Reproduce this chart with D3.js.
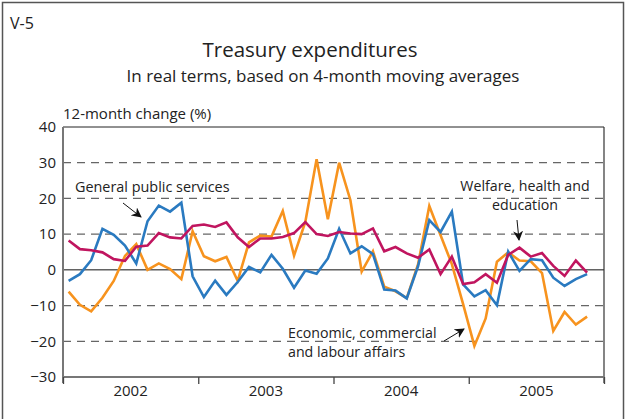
<!DOCTYPE html>
<html><head><meta charset="utf-8">
<script src="https://cdn.jsdelivr.net/npm/d3@7"></script>
<style>body{margin:0;background:#fff}svg{display:block}text{font-family:"Open Sans",Lato,sans-serif;fill:#222}</style>
</head><body><svg id="c" width="627" height="419"></svg>
<script>
const months = ["2002-01","2002-02","2002-03","2002-04","2002-05","2002-06","2002-07","2002-08","2002-09","2002-10","2002-11","2002-12",
"2003-01","2003-02","2003-03","2003-04","2003-05","2003-06","2003-07","2003-08","2003-09","2003-10","2003-11","2003-12",
"2004-01","2004-02","2004-03","2004-04","2004-05","2004-06","2004-07","2004-08","2004-09","2004-10","2004-11","2004-12",
"2005-01","2005-02","2005-03","2005-04","2005-05","2005-06","2005-07","2005-08","2005-09","2005-10","2005-11"];
const years = ["2002","2003","2004","2005"];
const yTicks = [40,30,20,10,0,-10,-20,-30];
const generalPublic = [-3.1,-1.2,2.7,11.5,9.8,6.8,1.8,13.6,18.0,16.3,18.8,-1.8,
-7.6,-3.0,-7.0,-3.4,0.8,-0.7,4.2,0.3,-5.0,-0.2,-1.1,3.2,
11.5,4.6,6.6,4.4,-5.5,-5.8,-8.0,1.0,13.9,10.6,16.3,-4.1,
-7.4,-5.7,-9.9,5.1,-0.3,3.0,2.7,-2.2,-4.5,-2.6,-1.2];
const welfare = [8.2,5.8,5.5,4.9,3.0,2.5,6.5,6.8,10.3,9.1,8.8,12.3,
12.7,12.0,13.3,9.1,6.4,8.8,8.8,9.2,10.3,13.4,10.0,9.5,
10.6,10.2,10.0,11.6,5.2,6.4,4.6,3.4,5.7,-1.2,3.7,-4.0,
-3.5,-1.2,-3.6,4.2,6.2,3.7,4.7,1.1,-1.7,2.6,-0.8];
const economic = [-6.1,-9.8,-11.6,-7.8,-3.1,3.9,7.2,0.0,1.8,0.2,-2.6,10.8,
3.8,2.4,3.6,-3.1,7.7,9.6,9.3,16.5,4.0,13.4,31.0,14.2,
30.0,19.5,-0.5,5.2,-4.7,-6.0,-7.9,1.5,17.9,9.7,1.6,-9.6,
-21.3,-13.6,2.3,4.9,2.6,2.4,-0.9,-17.1,-11.8,-15.3,-13.1];
const seriesNames = ["Economic, commercial and labour affairs","General public services","Welfare, health and education"];

const svg = d3.select("#c");
const L=63,R=604,T=127,B=377;
const x = d3.scaleLinear().domain([0, years.length*12]).range([L,R]);
const y = d3.scaleLinear().domain([-30,40]).range([B,T]);

// outer frame
svg.append("rect").attr("x",2.5).attr("y",2.5).attr("width",621).attr("height",440)
  .attr("fill","none").attr("stroke","#555").attr("stroke-width",1.5);

svg.append("text").attr("x",10).attr("y",29).attr("font-size",16).text("V-5");
svg.append("text").attr("x",310).attr("y",57).attr("text-anchor","middle").attr("font-size",20.5).text("Treasury expenditures");
svg.append("text").attr("x",323).attr("y",82).attr("text-anchor","middle").attr("font-size",17).text("In real terms, based on 4-month moving averages");
svg.append("text").attr("x",63).attr("y",119).attr("font-size",15).text("12-month change (%)");

// gridlines
svg.append("g").selectAll("line").data(yTicks.filter(d=>d!==0 && d!==40 && d!==-30)).join("line")
  .attr("x1",L).attr("x2",R).attr("y1",d=>y(d)).attr("y2",d=>y(d))
  .attr("stroke","#666").attr("stroke-width",1.3).attr("stroke-dasharray","8,6");
// zero line
svg.append("line").attr("x1",L).attr("x2",R).attr("y1",y(0)).attr("y2",y(0)).attr("stroke","#111").attr("stroke-width",1);
// top and right frame
svg.append("line").attr("x1",L).attr("x2",R).attr("y1",T).attr("y2",T).attr("stroke","#222").attr("stroke-width",1);
svg.append("line").attr("x1",R).attr("x2",R).attr("y1",T).attr("y2",B+6).attr("stroke","#333").attr("stroke-width",1.2);

// y axis
const yAxis = d3.axisLeft(y).tickValues(yTicks).tickSize(0).tickPadding(7);
const gy = svg.append("g").attr("transform",`translate(${L},0)`).call(yAxis);
gy.select(".domain").attr("stroke","#777").attr("stroke-width",2).attr("d",`M0,${T}V${B+6}`);
gy.selectAll("text").attr("font-size",15).attr("font-family","'Open Sans', sans-serif").attr("fill","#222");

// x axis
const xAxis = d3.axisBottom(x).tickValues(d3.range(0, years.length*12+1, 12)).tickSize(7).tickFormat("");
const gx = svg.append("g").attr("transform",`translate(0,${B})`).call(xAxis);
gx.select(".domain").attr("stroke","#777").attr("stroke-width",2).attr("d",`M${L},0H${R}`);
gx.selectAll(".tick line").attr("stroke","#444").attr("stroke-width",1.3);
svg.append("g").selectAll("text").data(years).join("text")
  .attr("x",(d,i)=>x(i*12+6)).attr("y",396).attr("text-anchor","middle").attr("font-size",15).text(d=>d);

// lines
const line = d3.line().x((d,i)=>x(i+0.5)).y(d=>y(d));
const defs = [[economic,"#f7931e"],[generalPublic,"#2a7ac0"],[welfare,"#c0155f"]];
defs.forEach(([data,col])=>{
  svg.append("path").datum(data).attr("d",line).attr("fill","none").attr("stroke",col)
    .attr("stroke-width",2.6).attr("stroke-linejoin","miter");
});

// annotations
svg.append("defs").append("marker").attr("id","ah").attr("viewBox","0 0 10 10").attr("refX",9).attr("refY",5)
  .attr("markerWidth",10).attr("markerHeight",10).attr("orient","auto-start-reverse").attr("markerUnits","userSpaceOnUse")
  .append("path").attr("d","M0,0L10,5L0,10L3,5Z").attr("fill","#111");
function arrow(x1,y1,x2,y2){
  svg.append("line").attr("x1",x1).attr("y1",y1).attr("x2",x2).attr("y2",y2).attr("stroke","#111").attr("stroke-width",1)
    .attr("marker-end","url(#ah)");
}
svg.append("text").attr("x",75).attr("y",192).attr("font-size",14.4).text(seriesNames[1]);
arrow(123,203,141,217);
svg.append("text").attr("x",525).attr("y",191).attr("text-anchor","middle").attr("font-size",14.2).text("Welfare, health and");
svg.append("text").attr("x",525).attr("y",210).attr("text-anchor","middle").attr("font-size",14.2).text("education");
arrow(517,220,519,240);
svg.append("text").attr("x",288).attr("y",338).attr("font-size",14.2).text("Economic, commercial");
svg.append("text").attr("x",288).attr("y",357).attr("font-size",14.2).text("and labour affairs");
arrow(444,341,464,329);
</script></body></html>
